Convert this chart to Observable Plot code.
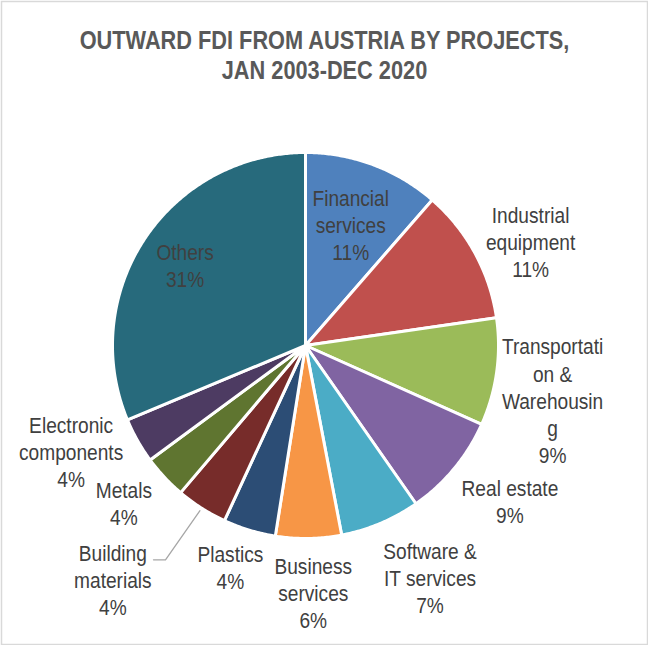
<!DOCTYPE html>
<html><head><meta charset="utf-8">
<script src="https://cdn.jsdelivr.net/npm/d3@7"></script>
<script src="https://cdn.jsdelivr.net/npm/@observablehq/plot@0.6"></script>
<style>body{margin:0;background:#fff}</style>
</head><body><div id="chart"></div>
<script>
// ---- data ----
const categories = ["Financial services","Industrial equipment","Transportation & Warehousing","Real estate","Software & IT services","Business services","Plastics","Building materials","Metals","Electronic components","Others"];
const labelTexts = ["Financial\nservices","Industrial\nequipment","Transportati\non &\nWarehousin\ng","Real estate","Software &\nIT services","Business\nservices","Plastics","Building\nmaterials","Metals","Electronic\ncomponents","Others"];
const shares = [11.4, 11.3, 9.0, 8.6, 6.7, 5.5, 4.4, 4.3, 3.7, 3.8, 31.3];
const sliceColors = ["#4F81BD","#C0504D","#9BBB59","#8064A2","#4BACC6","#F79646","#2C4D75","#772C2A","#5F7530","#4D3B62","#276A7C"];
const titleText = "OUTWARD FDI FROM AUSTRIA BY PROJECTS,\nJAN 2003-DEC 2020";

// ---- layout ----
const W = 648, H = 645, cx = 305, cy = 345, R = 193;
const labelDist  = [129, 248, 253, 257, 263, 247, 234, 303, 240, 257, 145];
const labelNudge = [0, 3.8, 4.5, -2.3, -5.4, -0.9, 1.8, 6.9, 2.2, 5.3, 0.2];
const labelFont = "'Liberation Sans',Arial,sans-serif";
const narrow = 0.87; // horizontal condensing to imitate a narrow face

const total = d3.sum(shares);
const arcs = d3.pie().sort(null).value(d => d)(shares);

const polyPts = [];
arcs.forEach((a, i) => {
  const cat = categories[i];
  polyPts.push({cat, x: 0, y: 0});
  const n = Math.max(2, Math.ceil((a.endAngle - a.startAngle) / (Math.PI / 360)));
  for (let k = 0; k <= n; k++) {
    const t = a.startAngle + (a.endAngle - a.startAngle) * k / n;
    polyPts.push({cat, x: R * Math.sin(t), y: -R * Math.cos(t)});
  }
});

const labelData = arcs.map((a, i) => {
  const mid = (a.startAngle + a.endAngle) / 2 + labelNudge[i] * Math.PI / 180;
  return {
    text: labelTexts[i] + "\n" + Math.round(shares[i] / total * 100) + "%",
    x: labelDist[i] * Math.sin(mid),
    y: -labelDist[i] * Math.cos(mid)
  };
});

// leader line for Building materials
const bi = categories.indexOf("Building materials");
const bm = (arcs[bi].startAngle + arcs[bi].endAngle) / 2;
const leader = [
  {x: (R + 3) * Math.sin(bm), y: -(R + 3) * Math.cos(bm)},
  {x: 256 * Math.sin(bm + 0.01), y: -256 * Math.cos(bm + 0.01)}
];
leader.push({x: leader[1].x - 12, y: leader[1].y});

const chart = Plot.plot({
  width: W, height: H,
  margin: 0,
  x: {domain: [-cx, W - cx], range: [0, W], axis: null},
  y: {domain: [-cy, H - cy], range: [0, H], axis: null},
  color: {domain: categories, range: sliceColors},
  style: {background: "white", fontFamily: labelFont},
  marks: [
    Plot.frame({stroke: "#d9d9d9", inset: 1, strokeWidth: 1.5}),
    Plot.line(polyPts, {x: "x", y: "y", z: "cat", fill: "cat", stroke: "white", strokeWidth: 3, strokeLinejoin: "round", curve: "linear-closed"}),
    Plot.line(leader, {x: "x", y: "y", stroke: "#a6a6a6", strokeWidth: 1.3}),
    Plot.text(labelData, {x: "x", y: "y", text: "text", fill: "#404040", fontSize: 22, lineHeight: 1.23, textAnchor: "middle", lineAnchor: "middle", fontFamily: labelFont}),
    Plot.text([titleText], {frameAnchor: "top", dy: 54, lineAnchor: "middle", fontSize: 25, lineHeight: 1.2, fontWeight: "bold", fill: "#595959", fontFamily: labelFont})
  ]
});
// condense the text horizontally (no narrow face is installed)
d3.select(chart).selectAll("text").each(function() {
  const t = this.getAttribute("transform") || "";
  this.setAttribute("transform", t + ` scale(${narrow},1)`);
});
document.getElementById("chart").append(chart);
</script>
</body></html>
